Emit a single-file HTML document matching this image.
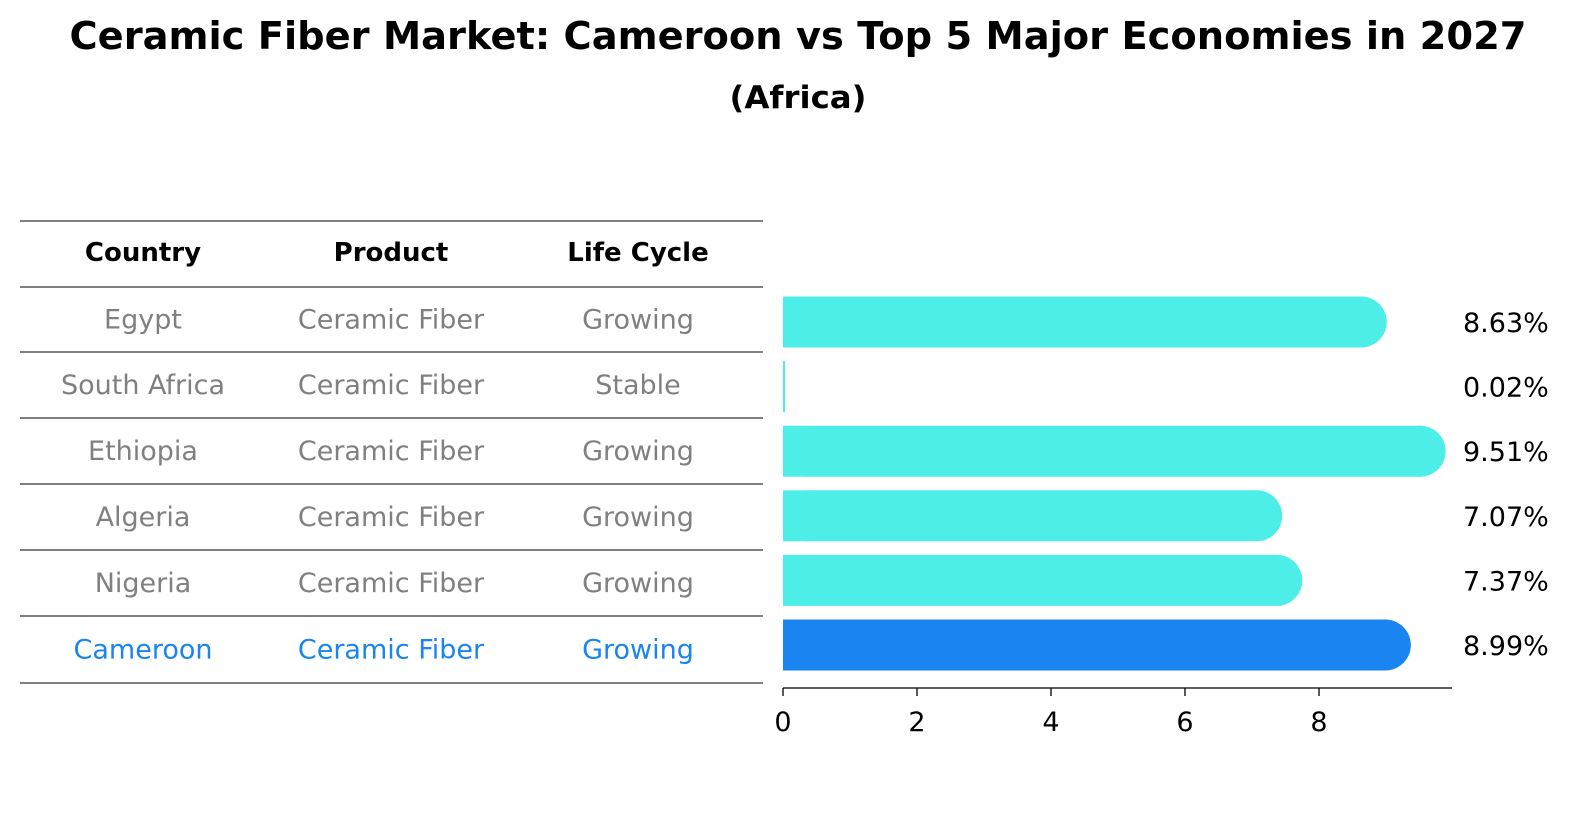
<!DOCTYPE html>
<html><head><meta charset="utf-8"><style>
body{margin:0;background:#fff;width:1586px;height:823px;overflow:hidden;font-family:"Liberation Sans","DejaVu Sans",sans-serif;}
svg text{font-family:"DejaVu Sans","Liberation Sans",sans-serif;}
</style></head><body>
<svg width="1586" height="823">
<text x="798" y="49" text-anchor="middle" font-size="38" font-weight="bold" textLength="1457" lengthAdjust="spacingAndGlyphs">Ceramic Fiber Market: Cameroon vs Top 5 Major Economies in 2027</text>
<text x="798" y="108" text-anchor="middle" font-size="31" font-weight="bold" textLength="137" lengthAdjust="spacingAndGlyphs">(Africa)</text>
<g id="table"></g>
<g id="bars"></g>
</svg>
<script>
const countries=["Egypt","South Africa","Ethiopia","Algeria","Nigeria","Cameroon"];
const products=["Ceramic Fiber","Ceramic Fiber","Ceramic Fiber","Ceramic Fiber","Ceramic Fiber","Ceramic Fiber"];
const lifeCycles=["Growing","Stable","Growing","Growing","Growing","Growing"];
const values=[8.63,0.02,9.51,7.07,7.37,8.99];
const ticks=[0,2,4,6,8];
const NS="http://www.w3.org/2000/svg";
function mk(tag,attrs,parent,text){const e=document.createElementNS(NS,tag);for(const k in attrs)e.setAttribute(k,attrs[k]);if(text!==undefined)e.textContent=text;parent.appendChild(e);return e;}
const tbl=document.getElementById('table');
const rowY=[221,287,352,418,484,550,616,683];
const colX=[143,391,638];
for(const y of rowY){const l=mk('line',{x1:20,x2:763,y1:y,y2:y,stroke:'#000','stroke-width':1},tbl);

}
["Country","Product","Life Cycle"].forEach((h,i)=>{const t=mk('text',{x:colX[i],y:261,'text-anchor':'middle','font-size':26,'font-weight':'bold'},tbl,h);

});
countries.forEach((c,r)=>{const y=(rowY[r+1]+rowY[r+2])/2+9;const col=c==="Cameroon"?'#1a85f0':'#808080';
[c,products[r],lifeCycles[r]].forEach((v,i)=>{const t=mk('text',{x:colX[i],y:y,'text-anchor':'middle','font-size':27,fill:col},tbl,v);

});});
const g=document.getElementById('bars');
const x0=783,pxPer=67;
const xs=v=>x0+v*pxPer;
const yc=i=>322+i*64.6;
const bh=51;
values.forEach((v,i)=>{const w=xs(v)-x0;const col=countries[i]==="Cameroon"?'#1a85f0':'#4deee8';
const r=w>2?bh/2:0;
const p=mk('rect',{x:x0,y:yc(i)-bh/2,width:Math.max(w+(w>2?bh/2:0),2),height:bh,fill:col,rx:r,ry:r},g);


if(w>2){const sq=mk('rect',{x:x0,y:yc(i)-bh/2,width:bh/2,height:bh,fill:col},g);

}
const t=mk('text',{x:1463,y:yc(i)+10,'font-size':27},g,v.toFixed(2)+'%');

});
const ax=mk('line',{x1:x0,x2:1452,y1:688,y2:688,stroke:'#000','stroke-width':1.3},g);


ticks.forEach(t=>{const l=mk('line',{x1:xs(t),x2:xs(t),y1:688,y2:696,stroke:'#000','stroke-width':1.3},g);


const tx=mk('text',{x:xs(t),y:731,'text-anchor':'middle','font-size':27},g,String(t));

});
</script>
</body></html>
